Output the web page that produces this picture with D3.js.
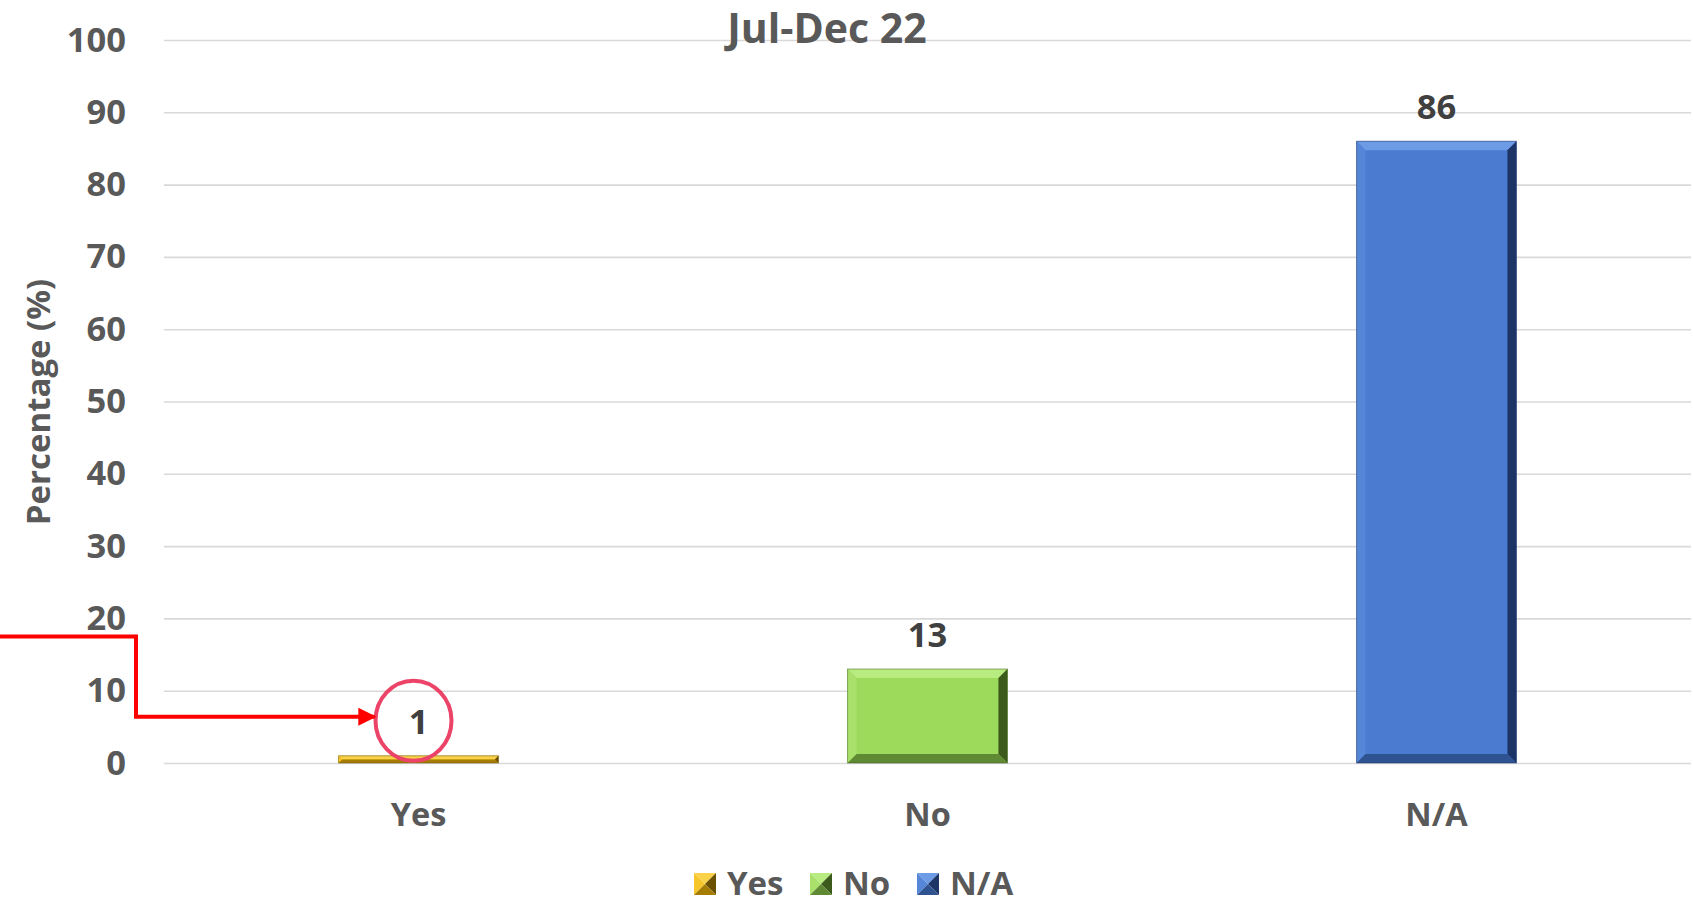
<!DOCTYPE html>
<html>
<head>
<meta charset="utf-8">
<script src="https://cdn.jsdelivr.net/npm/d3@7"></script>
<style>
  body { margin: 0; background: #fff; }
  svg { display: block; font-family: "Open Sans", sans-serif; font-weight: bold; }
</style>
</head>
<body>
<div id="wrapper"></div>
<script>
const categories = ["Yes", "No", "N/A"];
const values = [1, 13, 86];
const yTicks = [0, 10, 20, 30, 40, 50, 60, 70, 80, 90, 100];
const chartTitle = "Jul-Dec 22";
const yTitle = "Percentage (%)";

// colours per bar: main face, top bevel, right bevel, bottom bevel, left bevel
const palette = {
    "Yes": { main: "#f4b90a", top: "#f9d24a", right: "#6b5000", bottom: "#a67d04", left: "#f6c52a" },
    "No":  { main: "#9dd95a", top: "#b8eb80", right: "#3b5a1c", bottom: "#5f8a33", left: "#a9e06c" },
    "N/A": { main: "#4a7bd1", top: "#6e9be6", right: "#1c3566", bottom: "#2f5290", left: "#5686d8" }
};

const dimension = {
    width: 1693,
    height: 906,
    margin: { top: 40, left: 164, bottom: 143, right: 2 }
};
dimension.boundedWidth = dimension.width - dimension.margin.left - dimension.margin.right;
dimension.boundedHeight = dimension.height - dimension.margin.top - dimension.margin.bottom;

const svg = d3.select("#wrapper").append("svg")
    .attr("width", dimension.width)
    .attr("height", dimension.height);

const xScaler = d3.scaleBand()
    .domain(categories)
    .range([dimension.margin.left, dimension.width - dimension.margin.right])
    .paddingInner(0.686)
    .paddingOuter(0.343);

const yScaler = d3.scaleLinear()
    .domain([0, 100])
    .range([dimension.height - dimension.margin.bottom, dimension.margin.top]);

// gridlines + tick labels
const yAxis = d3.axisLeft(yScaler)
    .tickValues(yTicks)
    .tickSize(-dimension.boundedWidth)
    .tickPadding(38);

const yAxisG = svg.append("g")
    .attr("transform", `translate(${dimension.margin.left},0)`)
    .call(yAxis);
yAxisG.select(".domain").remove();
yAxisG.selectAll(".tick line").attr("stroke", "#d9d9d9").attr("stroke-width", 1.6);
yAxisG.selectAll(".tick text")
    .attr("fill", "#595959")
    .style("font-size", "34.5px")
    .style("font-family", "Open Sans, sans-serif")
    .style("font-weight", "bold");

// title
svg.append("text")
    .attr("x", 827)
    .attr("y", yScaler(100) + 3)
    .attr("text-anchor", "middle")
    .attr("fill", "#595959")
    .style("font-size", "41px")
    .text(chartTitle);

// y axis title
svg.append("text")
    .attr("transform", `translate(50, 402) rotate(-90)`)
    .attr("text-anchor", "middle")
    .attr("fill", "#595959")
    .style("font-size", "33px")
    .text(yTitle);

// bars with bevel
const bev = 9;
const bars = svg.append("g").selectAll("g")
    .data(categories.map((c, i) => ({ cat: c, value: values[i] })))
    .join("g");

bars.each(function (d) {
    const g = d3.select(this);
    const x0 = xScaler(d.cat), x1 = x0 + xScaler.bandwidth();
    const y0 = yScaler(d.value), y1 = yScaler(0);
    const c = palette[d.cat];
    const b = Math.min(bev, (y1 - y0) / 2);
    g.append("rect")
        .attr("x", x0).attr("y", y0)
        .attr("width", x1 - x0).attr("height", y1 - y0)
        .attr("fill", c.main);
    const poly = (pts, fill) => g.append("polygon")
        .attr("points", pts.map(p => p.join(",")).join(" "))
        .attr("fill", fill);
    poly([[x0, y0], [x1, y0], [x1 - b, y0 + b], [x0 + b, y0 + b]], c.top);
    poly([[x0, y0], [x0 + b, y0 + b], [x0 + b, y1 - b], [x0, y1]], c.left);
    poly([[x1, y0], [x1, y1], [x1 - b, y1 - b], [x1 - b, y0 + b]], c.right);
    poly([[x0, y1], [x1, y1], [x1 - b, y1 - b], [x0 + b, y1 - b]], c.bottom);
    g.append("rect")
        .attr("x", x0).attr("y", y0)
        .attr("width", x1 - x0).attr("height", y1 - y0)
        .attr("fill", "none")
        .attr("stroke", c.right).attr("stroke-opacity", 0.5).attr("stroke-width", 1);
    // value label
    g.append("text")
        .attr("x", (x0 + x1) / 2)
        .attr("y", y0 - 22)
        .attr("text-anchor", "middle")
        .attr("fill", "#404040")
        .style("font-size", "34.5px")
        .text(d.value);
});

// category labels
const xAxisG = svg.append("g")
    .attr("transform", `translate(0,${yScaler(0)})`)
    .call(d3.axisBottom(xScaler).tickSize(0).tickPadding(40));
xAxisG.select(".domain").remove();
xAxisG.selectAll(".tick text")
    .attr("fill", "#595959")
    .style("font-size", "32.5px")
    .style("font-family", "Open Sans, sans-serif")
    .style("font-weight", "bold");

// annotation: circle around the "1" label and red elbow arrow
const yesX = xScaler("Yes") + xScaler.bandwidth() / 2;
svg.append("ellipse")
    .attr("cx", yesX - 5)
    .attr("cy", yScaler(1) - 35)
    .attr("rx", 38)
    .attr("ry", 40)
    .attr("fill", "none")
    .attr("stroke", "#ec4468")
    .attr("stroke-width", 4);

svg.append("defs").append("marker")
    .attr("id", "arrow")
    .attr("viewBox", "0 0 10 10")
    .attr("refX", 9).attr("refY", 5)
    .attr("markerWidth", 4.5).attr("markerHeight", 4.5)
    .attr("orient", "auto")
    .append("path")
    .attr("d", "M0,0 L10,5 L0,10 Z")
    .attr("fill", "#ff0000");

const arrowY1 = yScaler(17.5), arrowY2 = yScaler(6.4);
svg.append("path")
    .attr("d", d3.line()([[0, arrowY1], [136, arrowY1], [136, arrowY2], [yesX - 44, arrowY2]]))
    .attr("fill", "none")
    .attr("stroke", "#ff0000")
    .attr("stroke-width", 4)
    .attr("marker-end", "url(#arrow)");

// legend
const legendItems = [
    { cat: "Yes", x: 694 },
    { cat: "No", x: 810 },
    { cat: "N/A", x: 917 }
];
const legend = svg.append("g").selectAll("g")
    .data(legendItems)
    .join("g")
    .attr("transform", d => `translate(${d.x},873)`);

legend.each(function (d) {
    const g = d3.select(this);
    const c = palette[d.cat];
    const s = 22, m = s / 2;
    const tri = (pts, fill) => g.append("polygon")
        .attr("points", pts.map(p => p.join(",")).join(" "))
        .attr("fill", fill);
    tri([[0, 0], [s, 0], [m, m]], c.top);
    tri([[0, 0], [m, m], [0, s]], c.left);
    tri([[s, 0], [s, s], [m, m]], c.right);
    tri([[0, s], [s, s], [m, m]], c.bottom);
    g.append("text")
        .attr("x", s + 11)
        .attr("y", 22)
        .attr("fill", "#595959")
        .style("font-size", "33px")
        .text(d.cat);
});
</script>
</body>
</html>
